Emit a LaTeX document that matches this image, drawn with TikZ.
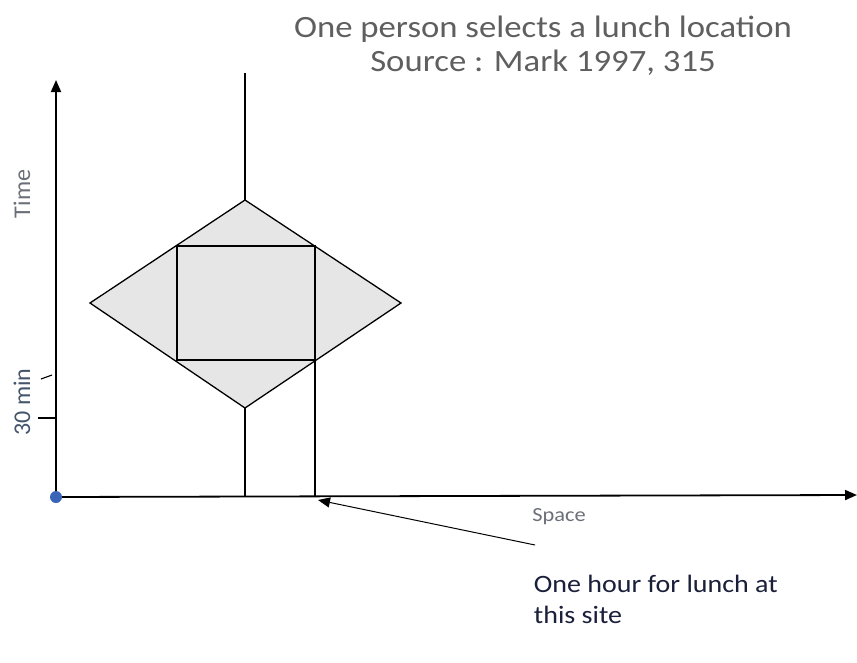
\documentclass[tikz,border=0pt]{standalone}
\usepackage{fontspec}
\setmainfont{Carlito}
\usepackage{xcolor}
\usetikzlibrary{positioning, arrows.meta, calc}

\definecolor{titlegray}{HTML}{5F5F5F}
\definecolor{labelgray}{HTML}{6A6F78}
\definecolor{tickblue}{HTML}{44546A}
\definecolor{notenavy}{HTML}{1A1F3A}
\definecolor{zonefill}{HTML}{E6E6E6}
\definecolor{origblue}{HTML}{3A64B8}

\begin{document}
\begin{tikzpicture}[
    x=1pt, y=-1pt,
    axis/.style={line width=1.8pt, -{Triangle[length=12pt, width=10pt]}},
    guide/.style={line width=1.3pt},
    zone/.style={line width=1.3pt, fill=zonefill},
    lunch/.style={line width=2.4pt},
    tick/.style={line width=1.1pt},
    pointer/.style={line width=1pt, -{Triangle[length=12pt, width=10pt]}},
    wide/.style={xscale=1.12, transform shape},
    axlabel/.style={font=\fontsize{24}{28}\selectfont, color=labelgray},
    title/.style={wide, font=\fontsize{31}{34}\selectfont, color=titlegray, align=center},
    note/.style={wide, font=\fontsize{25}{31}\selectfont, color=notenavy, align=left}
  ]
    \useasboundingbox (0,0) rectangle (857,662);

    % ── Axes ──
    \coordinate (origin) at (56,497);
    \coordinate (ytop) at (56,80);
    \coordinate (xend) at (857,495);
    \draw[axis] (origin) -- (ytop);
    \draw[axis] (origin) -- (xend);
    \fill[origblue] (origin) circle (6);

    % ── Ticks ──
    \coordinate (tickA) at (38,418);
    \coordinate (tickB) at (41,379);
    \draw[tick] (tickA) -- (origin |- tickA);
    \draw[tick] (tickB) -- (52,375);

    \node[axlabel, rotate=90] (time) at (22,194) {Time};
    \node[axlabel, rotate=90, color=tickblue] (thirty) at (22,402) {30 min};
    \node[axlabel, wide, font=\fontsize{20}{24}\selectfont] (space) at (559,517) {Space};

    % ── Reachable zone ──
    \coordinate (dtop) at (245,200);
    \coordinate (dright) at (401,303);
    \coordinate (dbottom) at (245,408);
    \coordinate (dleft) at (90,303);
    \draw[zone] (dtop) -- (dright) -- (dbottom) -- (dleft) -- cycle;

    % ── Lunch stay ──
    \coordinate (snw) at (177,246);
    \coordinate (sse) at (315,360);
    \draw[lunch] (snw) rectangle (sse);

    % ── Path lines ──
    \coordinate (pathtop) at (245,73);
    \draw[guide] (pathtop) -- (dtop);
    \draw[guide] (dbottom) -- (dbottom |- origin);
    \draw[guide] (sse) -- (sse |- origin);

    % ── Annotation ──
    \node[title] (head) at (543,46) {One person selects a lunch location\\Source : Mark 1997, 315};
    \node[note, anchor=north west] (lunchnote) at (530,572) {One hour for lunch at\\this site};
    \coordinate (tail) at (535,545);
    \draw[pointer] (tail) -- (318,500);

\end{tikzpicture}
\end{document}
